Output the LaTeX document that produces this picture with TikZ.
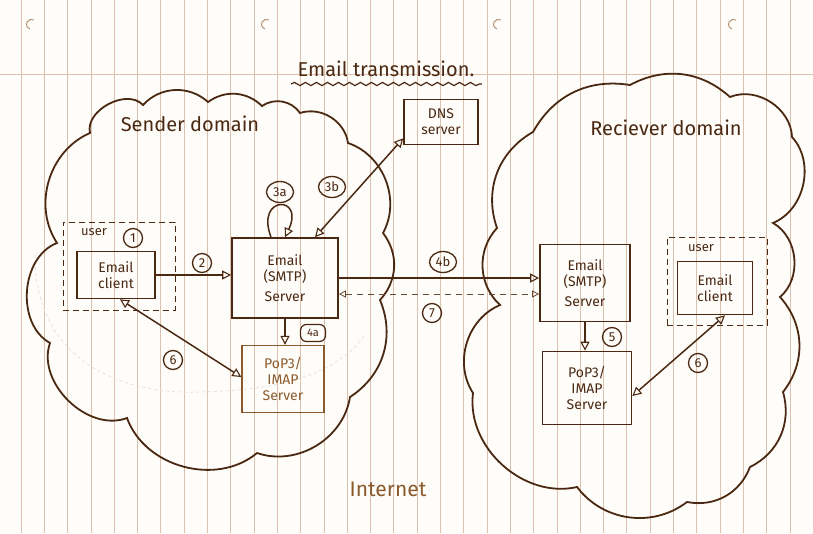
\documentclass[tikz,border=0pt]{standalone}
\usepackage{fontspec}
\setmainfont{Fira Sans}
\usetikzlibrary{arrows.meta,shapes.geometric,decorations.pathmorphing}
\definecolor{ink}{HTML}{4A2812}
\definecolor{inklight}{HTML}{8A5A2C}
\definecolor{paper}{HTML}{FFFDF9}
\definecolor{rulec}{HTML}{DCC2AE}
\definecolor{faintc}{HTML}{E6E0DA}
\tikzset{
  hd/.tip={Triangle[open,length=9pt,width=9pt,line width=1.1pt]},
  hds/.tip={Triangle[open,length=7pt,width=7pt,line width=0.8pt]},
  box/.style={draw=ink,line width=1.7pt,text=ink,align=center,inner sep=0pt,font=\fontsize{14}{16}\selectfont},
  lbox/.style={box,draw=inklight,text=inklight,line width=1.4pt},
  userbox/.style={draw=ink,dashed,dash pattern=on 6pt off 4pt,line width=1pt,inner sep=0pt},
  num/.style={draw=ink,circle,line width=1.3pt,inner sep=0.5pt,minimum size=19pt,text=ink,font=\fontsize{13}{13}\selectfont},
  numw/.style={num,ellipse,minimum width=27pt,minimum height=21pt},
  numr/.style={draw=ink,rounded corners=6pt,line width=1.2pt,inner sep=1pt,minimum width=25pt,minimum height=17pt,text=ink,font=\fontsize{11}{11}\selectfont},
  link/.style={draw=ink,line width=1.5pt,-{hd}},
  dlink/.style={draw=ink,line width=1.5pt,{hd}-{hd}},
  cloudline/.style={draw=ink,line width=1.8pt},
  lbl/.style={text=ink,font=\fontsize{18}{18}\selectfont},
  small/.style={text=ink,font=\fontsize{13}{13}\selectfont}
}
\begin{document}
\begin{tikzpicture}[x=1pt,y=-1pt]
\useasboundingbox (0,0) rectangle (813,533);
\fill[paper] (0,0) rectangle (813,533);
% ruled lines
\foreach \i in {0,...,34} \draw[rulec,line width=0.8pt] ({21+23.3*\i},0) -- ({21+23.3*\i},533);
\draw[rulec,line width=0.9pt] (0,74) -- (813,74);
% punch marks
\foreach \hx in {32,267,499,734} \draw[inklight!70,line width=0.9pt] (\hx+2,20) arc[start angle=60,end angle=250,radius=5pt];
% faint trace
\draw[faintc,dashed,line width=0.8pt] (35,255) .. controls (35,360) and (120,395) .. (200,392) .. controls (290,390) and (340,370) .. (365,335);

% title
\node[lbl,anchor=base,font=\fontsize{20}{20}\selectfont] (title) at (386,76) {Email transmission.};
\draw[ink,line width=1.2pt,decorate,decoration={snake,amplitude=1.6pt,segment length=11pt}] (291,84) -- (482,84);

% clouds
\draw[cloudline] (90,133) to[bend left=75] (143,105) to[bend left=45] (208,102) to[bend left=40] (262,106)
  to[bend left=45] (300,113) to[bend left=50] (348,143) to[bend left=50] (383,233) to[bend left=40] (380,300)
  to[bend left=40] (350,397) to[bend left=50] (257,453) to[bend left=55] (127,418) to[bend left=65] (50,343)
  to[bend left=65] (57,243) to[bend left=50] cycle;
\draw[cloudline] (497,228) to[bend left=40] (533,132) to[bend left=35] (630,85) to[bend left=35] (730,97)
  to[bend left=55] (792,137) to[bend left=55] (773,223) to[bend left=55] (780,297) to[bend left=40] (783,392)
  to[bend left=40] (750,467) to[bend left=40] (687,502) to[bend left=45] (577,487) to[bend left=55] (473,393)
  to[bend left=50] (500,305) to[bend left=45] cycle;

\node[lbl,font=\fontsize{20}{20}\selectfont] (sd) at (190,124) {Sender domain};
\node[lbl,font=\fontsize{20}{20}\selectfont] (rd) at (666,128) {Reciever domain};
\node[lbl,text=inklight,font=\fontsize{21}{21}\selectfont] (inet) at (388,489) {Internet};

% boxes
\node[userbox,minimum width=112pt,minimum height=88pt] (ucl) at (119,266) {};
\node[box,minimum width=78pt,minimum height=47pt] (cl) at (116,275) {Email\\client};
\node[box,minimum width=106pt,minimum height=80pt] (smtp) at (285,278) {Email\\(SMTP)\\[4pt]Server};
\node[box,minimum width=74pt,minimum height=45pt] (dns) at (441,122) {DNS\\server};
\node[lbox,minimum width=82pt,minimum height=67pt] (pop) at (283,379) {PoP3/\\IMAP\\Server};
\node[box,minimum width=90pt,minimum height=77pt] (rsmtp) at (585,283) {Email\\(SMTP)\\[4pt]Server};
\node[box,minimum width=89pt,minimum height=73pt] (rpop) at (587,388) {PoP3/\\IMAP\\Server};
\node[userbox,minimum width=100pt,minimum height=88pt] (ucr) at (717,281) {};
\node[box,minimum width=75pt,minimum height=53pt] (clr) at (715,288) {Email\\client};

\node[small] (u1) at (94,232) {user};
\node[small] (u2) at (701,248) {user};

% connectors
\draw[link] (cl.east) -- (cl.east -| smtp.west);
\draw[link] ([xshift=-14pt]smtp.north) .. controls (255,195) and (305,195) .. ([xshift=0pt]smtp.north);
\draw[dlink] ([xshift=30pt]smtp.north) -- ([yshift=7pt]dns.south west);
\draw[link] (smtp.south) -- (smtp.south |- pop.north);
\draw[dlink] ([xshift=4pt]cl.south) -- ([yshift=2pt]pop.west);
\draw[link] (smtp.east) -- (smtp.east -| rsmtp.west);
\draw[ink!85,line width=0.8pt,dashed,dash pattern=on 6pt off 5pt,{hds}-{hds}] ([yshift=-16pt]smtp.east) -- ([yshift=-16pt]smtp.east -| rsmtp.west);
\draw[link] (rsmtp.south) -- (rsmtp.south |- rpop.north);
\draw[dlink] ([yshift=-8pt]rpop.east) -- ([xshift=10pt]clr.south);

% step labels
\node[num] (n1) at (133,238) {1};
\node[num] (n2) at (202,263) {2};
\node[numw] (n3a) at (280,192) {3a};
\node[numw] (n3b) at (332,187) {3b};
\node[numr] (n4a) at (313,333) {4a};
\node[num] (n6a) at (173,360) {6};
\node[numw] (n4b) at (443,262) {4b};
\node[num] (n7) at (432,313) {7};
\node[num] (n5) at (612,337) {5};
\node[num] (n6b) at (698,363) {6};
\end{tikzpicture}
\end{document}
